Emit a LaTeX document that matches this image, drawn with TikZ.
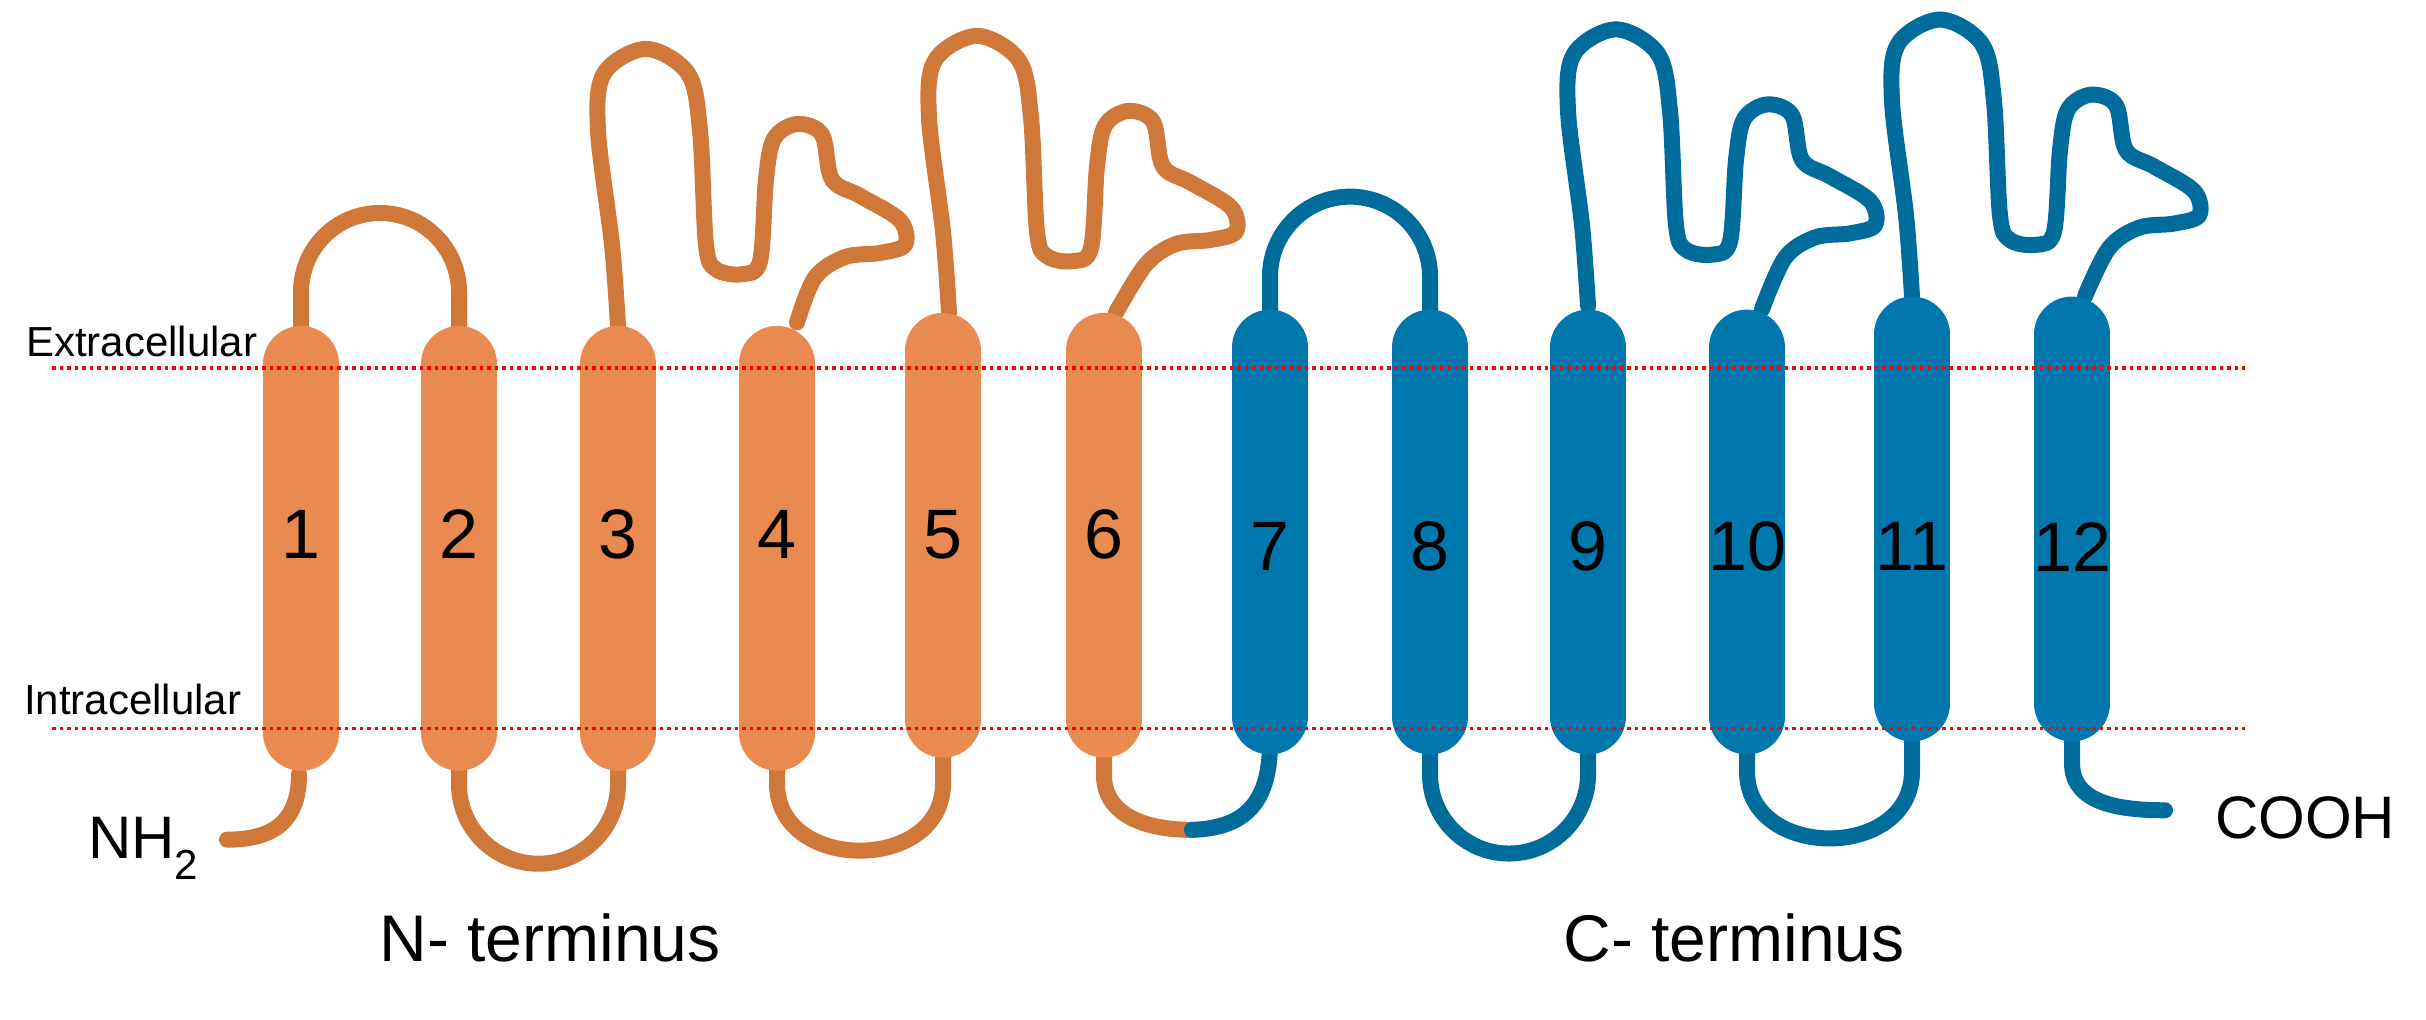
\documentclass[tikz,border=0pt]{standalone}
\usepackage{fontspec}
\setmainfont{Liberation Sans}
\definecolor{orfill}{HTML}{E98A51}
\definecolor{orloop}{HTML}{D0773A}
\definecolor{blfill}{HTML}{0078AE}
\definecolor{blloop}{HTML}{006C9C}
\tikzset{
  loopline/.style={line width=16pt,line cap=round,line join=round},
  helixbar/.style={line width=76pt,line cap=round},
  memline/.style={red,line width=3.5pt,dash pattern=on 3.5pt off 4pt},
  numlbl/.style={font=\fontsize{70}{70}\selectfont},
}
\newcommand\tmloop[3]{%
  \begin{scope}[shift={#2}]
  \draw[loopline,#1] plot[smooth,tension=0.55] coordinates {(0,0) (-6,-99) (-20,-239) (-14,-309) (28,-339) (70,-309) (82,-239) (88,-99) (98,-69) (124,-63) (142,-79) (148,-179) (156,-229) (179,-247) (204,-234) (214,-179) (242,-159) (282,-129) (287,-99) (262,-89) (227,-84) (197,-59) #3};
  \end{scope}}
\begin{document}
\begin{tikzpicture}[x=1pt,y=-0.816pt]
\useasboundingbox (0,0) rectangle (2426,1250);
% loops (orange)
\draw[loopline,orloop] (299,949) .. controls (299,1010) and (270,1029) .. (227,1029);
\draw[loopline,orloop] (301,420) -- (301,358) arc[start angle=180,end angle=360,x radius=79,y radius=97] -- (459,420);
\draw[loopline,orloop] (459,930) -- (459,961) arc[start angle=180,end angle=0,x radius=79.5,y radius=97.5] -- (618,930);
\tmloop{orloop}{(618,399)}{(179,-4)}
\draw[loopline,orloop] (777,930) -- (777,960) .. controls (777,1070) and (943,1070) .. (943,960) -- (943,915);
\tmloop{orloop}{(949,383)}{(167,0)}
\draw[loopline,orloop] (1104,915) -- (1104,950) .. controls (1104,995) and (1140,1017) .. (1192,1017);
% loops (blue)
\draw[loopline,blloop] (1192,1017) .. controls (1240,1015) and (1270,990) .. (1270,910);
\draw[loopline,blloop] (1270,400) -- (1270,339) arc[start angle=180,end angle=360,x radius=80,y radius=98] -- (1430,400);
\draw[loopline,blloop] (1430,910) -- (1430,949) arc[start angle=180,end angle=0,x radius=79,y radius=97] -- (1588,910);
\tmloop{blloop}{(1588,375)}{(174,4)}
\draw[loopline,blloop] (1747,910) -- (1747,945) .. controls (1747,1055) and (1912,1055) .. (1912,945) -- (1912,895);
\tmloop{blloop}{(1912,363)}{(173,0)}
\draw[loopline,blloop] (2072,895) -- (2072,935) .. controls (2072,980) and (2110,993) .. (2165,993);
% helices
\foreach \x/\t/\b in {301/446/898,459/446/898,618/446/898,777/446/898,943/430/882,1104/430/882}
  \draw[helixbar,orfill] (\x,\t) -- (\x,\b);
\foreach \x/\t/\b in {1270/426/878,1430/426/878,1588/426/878,1747/426/878,1912/410/862,2072/410/862}
  \draw[helixbar,blfill] (\x,\t) -- (\x,\b);
% numbers
\foreach \x/\n in {301/1,459/2,618/3,777/4,943/5,1104/6}
  \node[numlbl] (h\n) at (\x,655) {\n};
\foreach \x/\n in {1270/7,1430/8,1588/9,1747/10,1912/11,2072/12}
  \node[numlbl] (h\n) at (\x,670) {\n};
% membrane lines
\coordinate (el) at (52,451); \coordinate (er) at (2245,451);
\coordinate (il) at (52,893); \coordinate (ir) at (2245,893);
\draw[memline] (el) -- (er);
\draw[memline] (il) -- (ir);
\node[anchor=base west,font=\fontsize{42}{42}\selectfont,inner sep=0] (ext) at (26,437) {Extracellular};
\node[anchor=base west,font=\fontsize{42}{42}\selectfont,inner sep=0] (int) at (24,876) {Intracellular};
\node[anchor=base west,font=\fontsize{60}{60}\selectfont,inner sep=0] (nh2) at (88,1052) {NH\textsubscript{2}};
\node[anchor=base west,font=\fontsize{60}{60}\selectfont,inner sep=0] (cooh) at (2215,1028) {COOH};
\node[font=\fontsize{66}{66}\selectfont] (nterm) at (550,1150) {N- terminus};
\node[font=\fontsize{66}{66}\selectfont] (cterm) at (1734,1150) {C- terminus};
\end{tikzpicture}
\end{document}
